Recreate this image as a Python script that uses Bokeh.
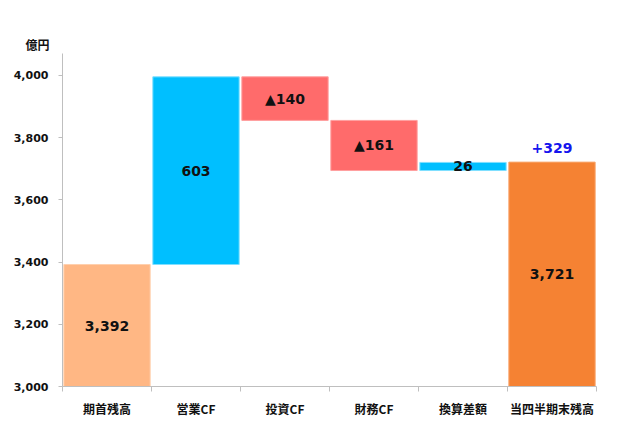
from bokeh.plotting import figure
from bokeh.models import Range1d, FixedTicker, ColumnDataSource, Title, NumeralTickFormatter
from bokeh.core.properties import value
from bokeh.embed import file_html
from bokeh.resources import INLINE

categories = ["期首残高", "営業CF", "投資CF", "財務CF", "換算差額", "当四半期末残高"]
values = [3392, 603, -140, -161, 26, 3721]
kinds = ["start", "up", "down", "down", "up", "end"]
bar_labels = ["3,392", "603", "▲140", "▲161", "26", "3,721"]
change_label = "+329"
y_ticks = [3000, 3200, 3400, 3600, 3800, 4000]
y_unit = "億円"

fill = {"start": "#FFB784", "up": "#00BFFF", "down": "#FF6B6B", "end": "#F58233"}
edge = {"start": "#FFD0AE", "up": "#7FDFFF", "down": "#FFA0A0", "end": "#F9A870"}

base = y_ticks[0]
y_top = 4070
xs, bottoms, tops, fills, lines, mids = [], [], [], [], [], []
running = 0
for i, (v, k) in enumerate(zip(values, kinds)):
    if k in ("start", "end"):
        b, t = base, v
        running = v
    else:
        b, t = running, running + v
        running = running + v
    lo, hi = min(b, t), max(b, t)
    xs.append(i + 0.5)
    bottoms.append(lo)
    tops.append(hi)
    fills.append(fill[k])
    lines.append(edge[k])
    mids.append((lo + hi) / 2)

src = ColumnDataSource(dict(x=xs, bottom=bottoms, top=tops, fill=fills, line=lines,
                            mid=mids, label=bar_labels))

p = figure(width=618, height=426, output_backend="svg", toolbar_location=None,
           x_range=Range1d(0, len(categories)), y_range=Range1d(base, y_top),
           min_border_left=62, min_border_right=22, min_border_top=53, min_border_bottom=40)
p.outline_line_color = None
p.xgrid.visible = False
p.ygrid.visible = False
p.background_fill_color = "white"
p.border_fill_color = "white"

p.vbar(x="x", bottom="bottom", top="top", width=0.97, fill_color="fill",
       line_color="line", line_width=1, source=src)
p.text(x="x", y="mid", text="label", source=src, text_align="center",
       text_baseline="middle", text_font=value("DejaVu Sans"), text_font_style="bold",
       text_font_size="14px", text_color="#111111")
p.text(x=[xs[-1]], y=[tops[-1] + 45], text=[change_label], text_align="center",
       text_baseline="middle", text_font=value("DejaVu Sans"), text_font_style="bold",
       text_font_size="14px", text_color="#1515EE")

# y axis
p.yaxis.ticker = FixedTicker(ticks=y_ticks)
p.yaxis.formatter = NumeralTickFormatter(format="0,0")
p.yaxis.axis_line_color = "#BFBFBF"
p.yaxis.major_tick_line_color = "#BFBFBF"
p.yaxis.major_tick_out = 4
p.yaxis.major_tick_in = 0
p.yaxis.minor_tick_line_color = None
p.yaxis.major_label_text_font = "DejaVu Sans"
p.yaxis.major_label_text_font_style = "bold"
p.yaxis.major_label_text_font_size = "11px"
p.yaxis.major_label_text_color = "#111111"
p.yaxis.major_label_standoff = 10

# x axis
p.xaxis.ticker = FixedTicker(ticks=xs, minor_ticks=list(range(len(categories) + 1)))
p.xaxis.major_label_overrides = {x: c for x, c in zip(xs, categories)}
p.xaxis.axis_line_color = "#BFBFBF"
p.xaxis.major_tick_line_color = None
p.xaxis.major_tick_out = 0
p.xaxis.major_tick_in = 0
p.xaxis.minor_tick_line_color = "#BFBFBF"
p.xaxis.minor_tick_out = 5
p.xaxis.minor_tick_in = 0
p.xaxis.major_label_text_font = "Noto Sans CJK JP"
p.xaxis.major_label_text_font_style = "bold"
p.xaxis.major_label_text_font_size = "12px"
p.xaxis.major_label_text_color = "#111111"
p.xaxis.major_label_standoff = 8

p.add_layout(Title(text=y_unit, align="left", offset=-37, standoff=2,
                   text_font="Noto Sans CJK JP", text_font_style="bold",
                   text_font_size="12px", text_color="#111111"), "above")

open("out.html", "w").write(file_html(p, INLINE))
